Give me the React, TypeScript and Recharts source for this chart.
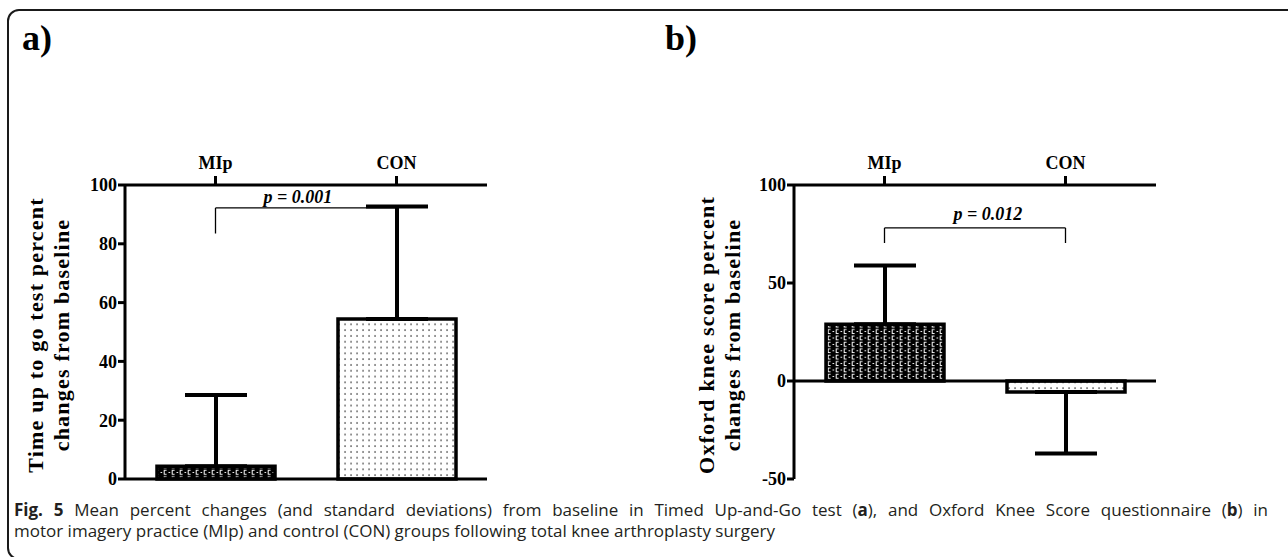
import { BarChart, Bar, XAxis, YAxis, ErrorBar, Cell, ReferenceLine } from "recharts";

const groups = ["MIp", "CON"];

// a) Timed Up-and-Go, % change from baseline
const tugMean = [4.3, 54.4];
const tugSd = [24.3, 38.3];
const tugTicks = [0, 20, 40, 60, 80, 100];

// b) Oxford Knee Score, % change from baseline
const oksMean = [28.9, -5.6];
const oksSd = [30.0, 31.4];
const oksTicks = [-50, 0, 50, 100];

// significance brackets: [bar height, leg bottom], p label
const tugBracket = [92.2, 83.5];
const tugP = "p = 0.001";
const oksBracket = [78.1, 70.4];
const oksP = "p = 0.012";

const fills = ["url(#mipFill)", "url(#conFill)"];

const serif = "'Liberation Serif', 'Times New Roman', serif";

const toRows = (means: number[], sds: number[]) =>
     groups.map((g, i) => ({
          group: g,
          mean: means[i],
          err: means[i] >= 0 ? [0, sds[i]] : [sds[i], 0],
     }));

const tugRows = toRows(tugMean, tugSd);
const oksRows = toRows(oksMean, oksSd);

const tickStyle = { fill: "#000", fontFamily: serif, fontWeight: 700, fontSize: 18 };

const yTitle = (lines: string[], bx: number, cy: number) => () => (
     <text
          transform={`rotate(-90, ${bx}, ${cy})`}
          x={bx}
          y={cy}
          textAnchor="middle"
          fontFamily={serif}
          fontWeight={700}
          fontSize={22}
          letterSpacing={1.2}
          fill="#000"
     >
          <tspan x={bx} dy={0}>{lines[0]}</tspan>
          <tspan x={bx} dy={26}>{lines[1]}</tspan>
     </text>
);

const pLabel = (text: string, dx: number, dy: number) => (props: any) => {
     const vb = props.viewBox || {};
     return (
          <text
               x={vb.x + vb.width / 2 + dx}
               y={vb.y - dy}
               textAnchor="middle"
               fontFamily={serif}
               fontStyle="italic"
               fontWeight={700}
               fontSize={18}
               fill="#000"
          >
               {text}
          </text>
     );
};

function Bracket(y: number[], text: string, dx: number, dy: number) {
     return [
          <ReferenceLine
               key="h"
               segment={[{ x: groups[0], y: y[0] }, { x: groups[1], y: y[0] }]}
               stroke="#000"
               strokeWidth={1.3}
               ifOverflow="visible"
               label={pLabel(text, dx, dy)}
          />,
          <ReferenceLine
               key="l"
               segment={[{ x: groups[0], y: y[0] }, { x: groups[0], y: y[1] }]}
               stroke="#000"
               strokeWidth={1.3}
               ifOverflow="visible"
          />,
          <ReferenceLine
               key="r"
               segment={[{ x: groups[1], y: y[0] }, { x: groups[1], y: y[1] }]}
               stroke="#000"
               strokeWidth={1.3}
               ifOverflow="visible"
          />,
     ];
}

function Panel(props: {
     rows: any[];
     ticks: number[];
     domain: [number, number];
     margin: any;
     title: string[];
     titleX: number;
     bracket: number[];
     p: string;
     pdx: number;
     pdy: number;
}) {
     const { rows, ticks, domain, margin, title, titleX, bracket, p, pdx, pdy } = props;
     const width = 500 + margin.left - 75 + margin.right - 13;
     return (
          <BarChart width={width} height={360} data={rows} margin={margin}>
               <XAxis
                    dataKey="group"
                    orientation="top"
                    height={30}
                    axisLine={{ stroke: "#000", strokeWidth: 3 }}
                    tickLine={{ stroke: "#000", strokeWidth: 3 }}
                    tickSize={9}
                    tickMargin={7}
                    tick={tickStyle}
               />
               <YAxis
                    width={50}
                    domain={domain}
                    ticks={ticks}
                    interval={0}
                    axisLine={{ stroke: "#000", strokeWidth: 3 }}
                    tickLine={{ stroke: "#000", strokeWidth: 3 }}
                    tickSize={7}
                    tickMargin={1}
                    tick={tickStyle}
                    label={yTitle(title, titleX, 205)}
               />
               <ReferenceLine y={0} stroke="#000" strokeWidth={3} />
               {Bracket(bracket, p, pdx, pdy)}
               <Bar dataKey="mean" barSize={118} stroke="#000" strokeWidth={3.5} isAnimationActive={false}>
                    {rows.map((_, i) => (
                         <Cell key={i} fill={fills[i]} />
                    ))}
                    <ErrorBar dataKey="err" direction="y" width={31} stroke="#000" strokeWidth={4} />
               </Bar>
          </BarChart>
     );
}

export default function App() {
     return (
          <div
               style={{
                    position: "absolute",
                    left: 0,
                    top: 0,
                    width: 1288,
                    height: 557,
                    background: "#fff",
                    overflow: "hidden",
               }}
          >
               <svg width={0} height={0} style={{ position: "absolute" }}>
                    <defs>
                         <pattern id="mipFill" width="8" height="6.4" patternUnits="userSpaceOnUse">
                              <rect width="8" height="6.4" fill="#000" />
                              <path d="M0.5 3.2 H2.2 M6.6 1.2 H4.2 V5 H6.6" stroke="#fff" strokeWidth="1" fill="none" />
                         </pattern>
                         <pattern id="conFill" width="6" height="5.8" patternUnits="userSpaceOnUse">
                              <rect width="6" height="5.8" fill="#fff" />
                              <rect x="2.4" y="2.3" width="1.3" height="1.3" fill="#111" />
                         </pattern>
                    </defs>
               </svg>

               <div
                    style={{
                         position: "absolute",
                         left: 7,
                         top: 9,
                         width: 1320,
                         height: 547,
                         border: "2px solid #1a1a1a",
                         borderRadius: 12,
                    }}
               />

               <div style={{ position: "absolute", left: 22, top: 16, fontFamily: serif, fontWeight: 700, fontSize: 36, lineHeight: "44px" }}>
                    a)
               </div>
               <div style={{ position: "absolute", left: 665, top: 16, fontFamily: serif, fontWeight: 700, fontSize: 36, lineHeight: "44px" }}>
                    b)
               </div>

               <div style={{ position: "absolute", left: 0, top: 130 }}>
                    <Panel
                         rows={tugRows}
                         ticks={tugTicks}
                         domain={[0, 100]}
                         margin={{ top: 25, right: 13, bottom: 11, left: 75 }}
                         title={["Time up to go test percent", "changes from baseline"]}
                         titleX={43}
                         bracket={tugBracket}
                         p={tugP}
                         pdx={-8}
                         pdy={5}
                    />
               </div>
               <div style={{ position: "absolute", left: 640, top: 130 }}>
                    <Panel
                         rows={oksRows}
                         ticks={oksTicks}
                         domain={[-50, 100]}
                         margin={{ top: 25, right: 8, bottom: 11, left: 104 }}
                         title={["Oxford knee score percent", "changes from baseline"]}
                         titleX={74}
                         bracket={oksBracket}
                         p={oksP}
                         pdx={13}
                         pdy={8}
                    />
               </div>

               <div
                    style={{
                         position: "absolute",
                         left: 14,
                         top: 499,
                         width: 1254,
                         fontFamily: "'Open Sans', sans-serif",
                         fontSize: 17,
                         lineHeight: "21px",
                         color: "#231f20",
                         whiteSpace: "nowrap",
                    }}
               >
                    <div style={{ textAlign: "justify", textAlignLast: "justify" }}>
                         <b>Fig. 5</b> Mean percent changes (and standard deviations) from baseline in Timed Up-and-Go test (<b>a</b>), and Oxford Knee Score questionnaire (<b>b</b>) in
                    </div>
                    <div>motor imagery practice (MIp) and control (CON) groups following total knee arthroplasty surgery</div>
               </div>
          </div>
     );
}
